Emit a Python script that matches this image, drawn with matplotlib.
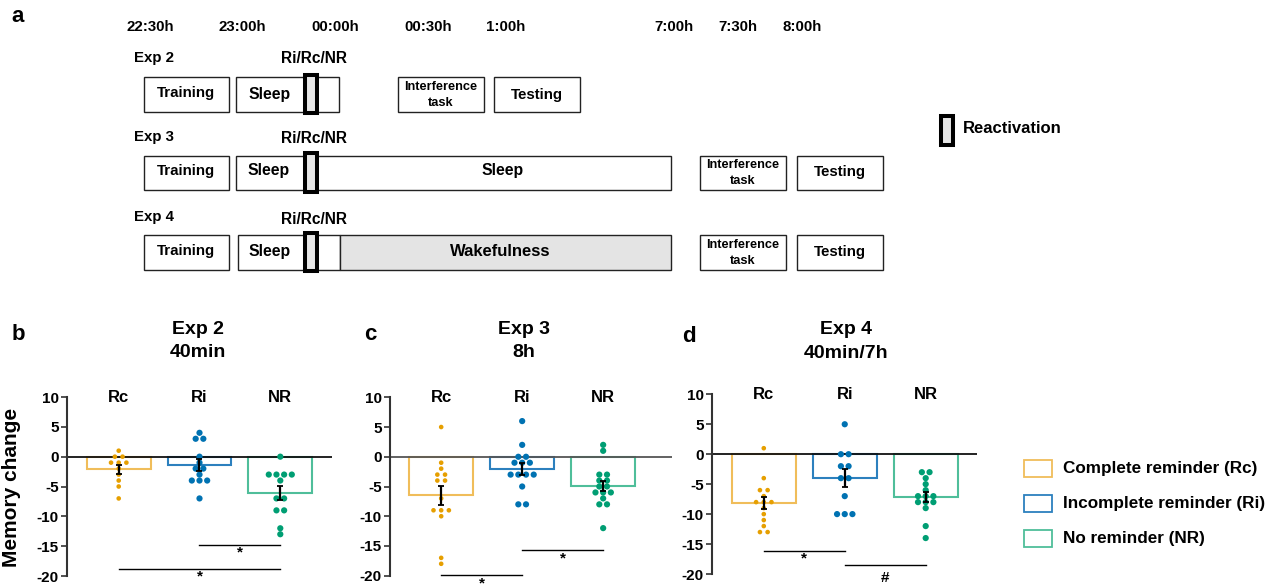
import numpy as np
import matplotlib
matplotlib.use('Agg')
import matplotlib.pyplot as plt
from matplotlib.patches import Rectangle
from matplotlib import font_manager as fm

W, H, DPI = 1273, 585, 100

names = {f.name for f in fm.fontManager.ttflist}
NARROW = 'Liberation Sans Narrow' in names
plt.rcParams['font.family'] = ['Liberation Sans', 'DejaVu Sans']
plt.rcParams['font.weight'] = 'bold'
plt.rcParams['axes.unicode_minus'] = False

# ---------------- data ----------------
time_labels = ['22:30h', '23:00h', '00:00h', '00:30h', '1:00h', '7:00h', '7:30h', '8:00h']
exp_labels = ['Exp 2', 'Exp 3', 'Exp 4']
reminder_label = 'Ri/Rc/NR'
groups = ['Rc', 'Ri', 'NR']
legend_labels = ['Complete reminder (Rc)', 'Incomplete reminder (Ri)', 'No reminder (NR)']
panel_letters = ['b', 'c', 'd']
panel_titles = [('Exp 2', '40min'), ('Exp 3', '8h'), ('Exp 4', '40min/7h')]
y_label = 'Memory change'
y_ticks = [10, 5, 0, -5, -10, -15, -20]

exp2_rc = [1, 0, 0, -1, -1, -1, -2, -3, -4, -5, -7]
exp2_ri = [4, 3, 3, 0, -1, -2, -2, -3, -4, -4, -4, -7]
exp2_nr = [0, -3, -3, -3, -3, -4, -7, -7, -9, -9, -12, -13]
exp3_rc = [5, -1, -2, -3, -3, -4, -4, -7, -9, -9, -9, -10, -17, -18]
exp3_ri = [6, 2, 0, 0, -1, -1, -1, -3, -3, -3, -3, -5, -8, -8]
exp3_nr = [1, 2, -3, -3, -4, -4, -5, -5, -6, -6, -6, -7, -8, -8, -12]
exp4_rc = [1, -4, -6, -6, -7, -8, -8, -8, -9, -10, -11, -12, -13, -13]
exp4_ri = [5, 0, 0, -2, -2, -4, -4, -7, -10, -10, -10]
exp4_nr = [-3, -3, -4, -5, -6, -7, -7, -7, -8, -8, -8, -9, -12, -14]

# significance brackets: (group a, group b, level, mark)
exp2_sig = [(1, 2, -14.8, '*'), (0, 2, -18.8, '*')]
exp3_sig = [(1, 2, -15.75, '*'), (0, 1, -19.9, '*')]
exp4_sig = [(0, 1, -16.1, '*'), (1, 2, -18.5, '#')]

# ---------------- styles ----------------
dot_colors = ['#E69F00', '#0072B2', '#009E73']
bar_edges = ['#F0BD5A', '#2C80BE', '#4FBE9A']
dot_sizes = [11, 20, 20]

fig = plt.figure(figsize=(W / DPI, H / DPI), dpi=DPI)

# overlay axes in pixel coordinates for the schematic
ax0 = fig.add_axes([0, 0, 1, 1])
ax0.set_xlim(0, W)
ax0.set_ylim(H, 0)
ax0.axis('off')

if NARROW:
    fa = dict(family=['Liberation Sans Narrow', 'Liberation Sans'], weight='bold')
    s_main, s_small, s_rr = 12.5, 10.5, 13
else:
    fa = dict(family=['Liberation Sans', 'DejaVu Sans'], weight='bold')
    s_main, s_small, s_rr = 10.8, 9.2, 11.2
fr = dict(family=['Liberation Sans', 'DejaVu Sans'], weight='bold')

ax0.text(18, 16, 'a', fontsize=16, ha='center', va='center', **fr)

time_x = [150, 242.5, 334.7, 427.8, 505.3, 674, 738, 801.7]
for tx, tl in zip(time_x, time_labels):
    ax0.text(tx, 27.3, tl, fontsize=s_main, ha='center', va='center', **fa)

row_label_y = [57.7, 136.7, 216.7]
rr_y = [58.7, 138.3, 219]
row_top = [77.3, 155.7, 235.3]
row_bot = [111.7, 190.3, 270]


def box(x0, x1, y0, y1, fc='white', ec='#222222', lw=1.0, z=2):
    ax0.add_patch(Rectangle((x0, y0), x1 - x0, y1 - y0, facecolor=fc,
                            edgecolor=ec, lw=lw, zorder=z))


def label(x, y, s, size, font, **kw):
    ax0.text(x, y, s, fontsize=size, ha='center', va='center', zorder=6, **font, **kw)


for r in range(3):
    ax0.text(134, row_label_y[r], exp_labels[r], fontsize=s_main, ha='left', va='center', **fa)
    label(313.5, rr_y[r], reminder_label, s_rr, fa)
    t, b = row_top[r], row_bot[r]
    yc = (t + b) / 2 - 1.5
    box(143.7, 229, t, b)
    label(186.3, yc, 'Training', s_main, fa)

# row 1 (Exp 2)
t, b = row_top[0], row_bot[0]
yc = (t + b) / 2
box(236.3, 338.8, t, b)
label(270, yc, 'Sleep', s_main + 0.5, fa)
box(398.4, 483.7, t, b)
label(441, yc - 7.5, 'Interference', s_small, fa)
label(441, yc + 8.5, 'task', s_small, fa)
box(494.3, 580, t, b)
label(537.2, yc, 'Testing', s_main, fa)

# row 2 (Exp 3)
t, b = row_top[1], row_bot[1]
yc = (t + b) / 2 - 2
box(236.3, 670.8, t, b)
label(269, yc, 'Sleep', s_main + 0.5, fa)
label(502.9, yc, 'Sleep', s_main + 0.5, fa)

# row 3 (Exp 4)
t, b = row_top[2], row_bot[2]
yc = (t + b) / 2 - 1
box(238, 340, t, b)
box(340, 670.6, t, b, fc='#E4E4E4')
label(269.4, yc, 'Sleep', s_main + 0.5, fa)
label(500, yc, 'Wakefulness', 12, fr)

for r in (1, 2):
    t, b = row_top[r], row_bot[r]
    yc = (t + b) / 2
    box(700.4, 785.8, t, b)
    label(743, yc - 8, 'Interference', s_small, fa)
    label(743, yc + 8.5, 'task', s_small, fa)
    box(796.7, 882.5, t, b)
    label(839.6, yc - 1, 'Testing', s_main, fa)

# reactivation markers
for r in range(3):
    box(305.3, 317.2, row_top[r] - 2.6, row_bot[r] + 1.3, fc='#E6E6E6', ec='black', lw=2.9, z=4)
box(940.7, 952.6, 116.3, 145, fc='#E6E6E6', ec='black', lw=2.9, z=4)
ax0.text(962.5, 128.3, 'Reactivation', fontsize=12, ha='left', va='center', **fr)

# legend for bars
leg_y = [468.7, 503.2, 538]
for c, l, yy in zip(bar_edges, legend_labels, leg_y):
    box(1023.5, 1052.2, yy - 8.5, yy + 8.5, fc='white', ec=c, lw=1.3)
    ax0.text(1063, yy, l, fontsize=12.3, ha='left', va='center', **fr)

# y label
ax0.text(12, 487, y_label, fontsize=15, rotation=90, ha='center', va='center', **fr)


# ---------------- bar panels ----------------
def swarm_offsets(vals, step):
    vals = np.asarray(vals, float)
    offs = np.zeros(len(vals))
    for v in np.unique(vals):
        idx = np.where(vals == v)[0]
        n = len(idx)
        offs[idx] = (np.arange(n) - (n - 1) / 2) * step
    return offs


def px_axes(l, r, t, b):
    return fig.add_axes([l / W, 1 - b / H, (r - l) / W, (b - t) / H])


panels = [
    dict(rect=(67, 332, 397, 576), xlim=(-0.64, 2.64), data=[exp2_rc, exp2_ri, exp2_nr],
         sig=exp2_sig, zc='#111111', letter=(18.3, 335), title=(198.3, 330, 352.7)),
    dict(rect=(390, 672, 397.3, 575.7), xlim=(-0.632, 2.85), data=[exp3_rc, exp3_ri, exp3_nr],
         sig=exp3_sig, zc='#555555', letter=(370.7, 335), title=(524.3, 330, 352.3)),
    dict(rect=(712.3, 976.7, 394.3, 574), xlim=(-0.636, 2.63), data=[exp4_rc, exp4_ri, exp4_nr],
         sig=exp4_sig, zc='#111111', letter=(689, 336.7), title=(845.7, 329.3, 353.3)),
]

for p, letter, (t1, t2) in zip(panels, panel_letters, panel_titles):
    ax = px_axes(*p['rect'])
    ax.set_facecolor('none')
    ax.set_xlim(*p['xlim'])
    ax.set_ylim(-20, 10)
    x = np.arange(len(groups))
    means = np.array([np.mean(d) for d in p['data']])
    sems = np.array([np.std(d, ddof=1) / np.sqrt(len(d)) for d in p['data']])
    ax.bar(x, means, width=0.79, facecolor='white', edgecolor=bar_edges, lw=1.5, zorder=1)
    ax.axhline(0, color=p['zc'], lw=1.3, zorder=2)
    for i, d in enumerate(p['data']):
        ax.scatter(x[i] + swarm_offsets(d, 0.095), d, s=dot_sizes[i], color=dot_colors[i],
                   edgecolors='none', zorder=3)
    ax.errorbar(x, means, yerr=sems, fmt='none', ecolor='black', elinewidth=1.6,
                capsize=2.5, capthick=1.3, zorder=4)
    for i, g in enumerate(groups):
        ax.text(x[i], 10, g, fontsize=12, ha='center', va='center', clip_on=False, **fr)
    for a, b, lvl, mark in p['sig']:
        ax.plot([x[a], x[b]], [lvl, lvl], color='black', lw=1.0, clip_on=False, zorder=5)
        off = 8.6 if mark == '*' else 12.5
        ax.annotate(mark, xy=((x[a] + x[b]) / 2, lvl), xytext=(0, -off),
                    textcoords='offset points', ha='center', va='baseline',
                    fontsize=11, annotation_clip=False, **fr)
    ax.set_yticks(y_ticks)
    ax.set_yticklabels([str(v) for v in y_ticks])
    ax.set_xticks([])
    for s in ('top', 'right', 'bottom'):
        ax.spines[s].set_visible(False)
    ax.spines['left'].set_color('#333333')
    ax.spines['left'].set_linewidth(1.5)
    ax.tick_params(axis='y', length=4, width=1.2, pad=2, labelsize=11, color='#333333')
    for tl in ax.get_yticklabels():
        tl.set_fontweight('bold')
    lx, ly = p['letter']
    ax0.text(lx, ly, letter, fontsize=16, ha='center', va='center', **fr)
    tx, ty1, ty2 = p['title']
    ax0.text(tx, ty1, t1, fontsize=14, ha='center', va='center', **fr)
    ax0.text(tx, ty2, t2, fontsize=14, ha='center', va='center', **fr)

fig.savefig('out.png', dpi=DPI)
